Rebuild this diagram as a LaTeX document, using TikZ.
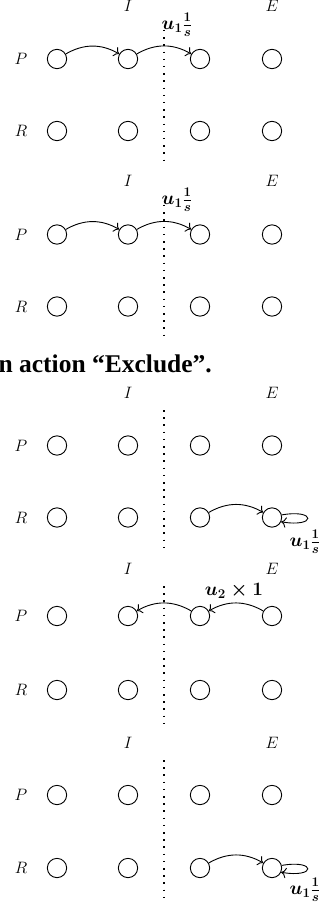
\documentclass[tikz,border=0pt]{standalone}
\usepackage{fix-cm}
\usepackage{fontspec}
\usetikzlibrary{arrows.meta}
\newfontfamily\capfont{Liberation Serif}
\tikzset{
  statenode/.style={circle, draw, line width=0.9pt, minimum size=19.3pt, inner sep=0pt},
  axlabel/.style={font=\fontsize{16.5}{19}\selectfont, inner sep=0pt},
  boldlabel/.style={font=\fontsize{19}{22}\selectfont\boldmath, inner sep=0pt},
  arrowline/.style={-{To[scale=1.4]}, line width=0.9pt},
  divider/.style={line width=1.5pt, dash pattern=on 1.5pt off 5.7pt},
}
\newcommand\mypanel[6]{%
  \foreach \c/\x in {1/57,2/128,3/200,4/272}{
    \node[statenode] (P#1c\c) at (\x,-#2) {};
    \node[statenode] (R#1c\c) at (\x,-#3) {};
  }
  \node[axlabel] (P#1) at (21,-#2) {$P$};
  \node[axlabel] (R#1) at (21,-#3) {$R$};
  \node[axlabel] (I#1) at (128,-#4) {$I$};
  \node[axlabel] (E#1) at (272,-#4) {$E$};
  \coordinate (D#1t) at (164,-#5);
  \coordinate (D#1b) at (164,-#6);
  \draw[divider] (D#1t) -- (D#1b);
}
\begin{document}
\begin{tikzpicture}[x=1pt,y=1pt]
\useasboundingbox (0,0) rectangle (328,-909);
% panel 1
\mypanel{1}{59}{131}{6}{30}{165}
\draw[arrowline] (P1c1) to[bend left] (P1c2);
\draw[arrowline] (P1c2) to[bend left] (P1c3);
\node[boldlabel] (L1) at (177,-25) {$u_1\frac{1}{s}$};
% panel 2
\mypanel{2}{234.5}{306.5}{181}{205}{340}
\draw[arrowline] (P2c1) to[bend left] (P2c2);
\draw[arrowline] (P2c2) to[bend left] (P2c3);
\node[boldlabel] (L2) at (177,-200) {$u_1\frac{1}{s}$};
% caption fragment
\node[font=\capfont\bfseries\fontsize{25.5}{30}\selectfont, anchor=base east, inner sep=0pt] (cap) at (212,-372) {n action “Exclude”.};
% panel 3
\mypanel{3}{445.5}{517.5}{392.5}{410}{552}
\draw[arrowline] (R3c3) to[bend left] (R3c4);
\draw[arrowline] (R3c4.15) .. controls +(35,6) and +(35,-6) .. (R3c4.-25);
\node[boldlabel] (L3) at (305,-542) {$u_1\frac{1}{s}$};
% panel 4
\mypanel{4}{616}{690}{569}{586}{727}
\draw[arrowline] (P4c4) to[bend right] (P4c3);
\draw[arrowline] (P4c3) to[bend right] (P4c2);
\node[boldlabel] (L4) at (234,-591) {$u_2\times 1$};
% panel 5
\mypanel{5}{795}{868}{742.5}{760}{900}
\draw[arrowline] (R5c3) to[bend left] (R5c4);
\draw[arrowline] (R5c4.15) .. controls +(35,6) and +(35,-6) .. (R5c4.-25);
\node[boldlabel] (L5) at (305,-890) {$u_1\frac{1}{s}$};
\end{tikzpicture}
\end{document}
